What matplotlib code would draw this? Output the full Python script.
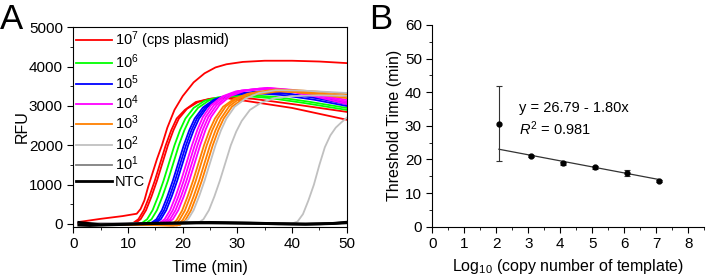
import matplotlib
matplotlib.use("Agg")
import matplotlib.pyplot as plt
from matplotlib.ticker import MultipleLocator

plt.rcParams['font.family'] = ['Liberation Sans', 'DejaVu Sans']
plt.rcParams['mathtext.fontset'] = 'custom'
plt.rcParams['mathtext.rm'] = 'Liberation Sans'
plt.rcParams['mathtext.it'] = 'Liberation Sans:italic'
plt.rcParams['font.size'] = 11

# ---- panel A: amplification curves (time in min, RFU) ----
red_t = [
    [1, 3, 5, 7, 9, 10.5, 11.6, 12.3, 13.0, 13.7, 14.5, 15.3, 16.2, 17.2, 18.5, 20, 22, 24, 26, 28, 31, 35, 40, 45, 50],
    [1, 10.9, 11.9, 12.9, 13.9, 14.9, 15.9, 16.9, 17.9, 18.9, 20.4, 22.4, 24.9, 28, 32, 40, 50],
    [1, 11.3, 12.3, 13.3, 14.3, 15.3, 16.3, 17.3, 18.3, 19.3, 20.8, 22.8, 25.3, 29, 33, 40, 50],
]
red_rfu = [
    [50, 90, 130, 165, 200, 235, 260, 380, 600, 950, 1300, 1650, 2000, 2450, 2900, 3250, 3600, 3830, 3980, 4060, 4120, 4150, 4150, 4130, 4090],
    [20, 20, 120, 350, 700, 1100, 1550, 2000, 2380, 2680, 2900, 3100, 3180, 3200, 3120, 2950, 2650],
    [20, 20, 120, 350, 700, 1100, 1550, 2000, 2380, 2680, 2930, 3100, 3190, 3220, 3180, 3050, 2850],
]
green_t = [
    [1, 12.5, 13.5, 14.5, 15.5, 16.5, 17.5, 18.5, 19.5, 20.5, 22, 24, 26.5, 31, 36, 42, 50],
    [1, 13.3, 14.3, 15.3, 16.3, 17.3, 18.3, 19.3, 20.3, 21.3, 22.8, 24.8, 27.3, 32, 37, 43, 50],
]
green_rfu = [
    [20, 20, 120, 350, 700, 1100, 1550, 2000, 2380, 2680, 2950, 3130, 3220, 3260, 3200, 3080, 2900],
    [20, 20, 120, 350, 700, 1100, 1550, 2000, 2380, 2680, 2950, 3140, 3230, 3280, 3230, 3110, 2950],
]
blue_t = [
    [1, 14.2, 15.2, 16.2, 17.2, 18.2, 19.2, 20.2, 21.2, 22.2, 23.7, 25.7, 28.2, 33, 38, 44, 50],
    [1, 14.6, 15.6, 16.6, 17.6, 18.6, 19.6, 20.6, 21.6, 22.6, 24.1, 26.1, 28.6, 34, 39, 44, 50],
    [1, 15, 16, 17, 18, 19, 20, 21, 22, 23, 24.5, 26.5, 29, 34, 39, 44, 50],
]
blue_rfu = [
    [20, 20, 120, 350, 700, 1100, 1550, 2000, 2380, 2680, 2960, 3160, 3270, 3330, 3280, 3160, 3000],
    [20, 20, 120, 350, 700, 1100, 1550, 2000, 2380, 2680, 2960, 3170, 3290, 3350, 3310, 3220, 3100],
    [20, 20, 120, 350, 700, 1100, 1550, 2000, 2380, 2680, 2970, 3180, 3300, 3370, 3320, 3210, 3050],
]
magenta_t = [
    [1, 15.7, 16.7, 17.7, 18.7, 19.7, 20.7, 21.7, 22.7, 23.7, 25.2, 27.2, 29.7, 34, 39, 44, 50],
    [1, 16.2, 17.2, 18.2, 19.2, 20.2, 21.2, 22.2, 23.2, 24.2, 25.7, 27.7, 30.2, 35, 40, 45, 50],
    [1, 16.7, 17.7, 18.7, 19.7, 20.7, 21.7, 22.7, 23.7, 24.7, 26.2, 28.2, 30.7, 35.5, 40, 45, 50],
    [1, 17.2, 18.2, 19.2, 20.2, 21.2, 22.2, 23.2, 24.2, 25.2, 26.7, 28.7, 31.2, 36, 40, 45, 50],
]
magenta_rfu = [
    [20, 20, 120, 350, 700, 1100, 1550, 2000, 2400, 2720, 3020, 3240, 3370, 3440, 3380, 3250, 3050],
    [20, 20, 120, 350, 700, 1100, 1550, 2000, 2400, 2720, 3020, 3250, 3380, 3450, 3390, 3260, 3100],
    [20, 20, 120, 350, 700, 1100, 1550, 2000, 2400, 2720, 3020, 3250, 3390, 3460, 3410, 3290, 3150],
    [20, 20, 120, 350, 700, 1100, 1550, 2000, 2400, 2720, 3020, 3250, 3380, 3450, 3400, 3270, 3100],
]
orange_t = [
    [1, 17.9, 18.9, 19.9, 20.9, 21.9, 22.9, 23.9, 24.9, 25.9, 27.4, 29.4, 31.9, 36, 41, 45, 50],
    [1, 18.4, 19.4, 20.4, 21.4, 22.4, 23.4, 24.4, 25.4, 26.4, 27.9, 29.9, 32.4, 37, 41, 45, 50],
    [1, 19, 20, 21, 22, 23, 24, 25, 26, 27, 28.5, 30.5, 33, 37, 41, 45, 50],
    [1, 19.5, 20.5, 21.5, 22.5, 23.5, 24.5, 25.5, 26.5, 27.5, 29, 31, 33.5, 38, 42, 46, 50],
]
orange_rfu = [
    [10, -30, 100, 340, 700, 1100, 1550, 2000, 2380, 2680, 2980, 3180, 3310, 3380, 3350, 3290, 3200],
    [10, -40, 100, 340, 700, 1100, 1550, 2000, 2380, 2680, 2990, 3190, 3320, 3400, 3370, 3320, 3250],
    [10, -40, 100, 340, 700, 1100, 1550, 2000, 2380, 2680, 2990, 3200, 3340, 3420, 3400, 3360, 3300],
    [10, -30, 100, 340, 700, 1100, 1550, 2000, 2380, 2680, 2980, 3180, 3300, 3380, 3340, 3300, 3250],
]
lgrey_t = [
    [1, 20, 21, 22, 23, 24, 25, 26, 27, 28, 29.5, 31.5, 34, 37, 42, 46, 50],
    [1, 22.8, 23.8, 24.8, 25.8, 26.8, 27.8, 28.8, 29.8, 30.8, 32.3, 34.3, 36.8, 40, 45, 50],
    [1, 40, 41, 42, 43, 44, 45, 46, 47, 48, 49, 50],
]
lgrey_rfu = [
    [20, 20, 120, 350, 700, 1100, 1550, 2000, 2380, 2680, 2980, 3190, 3330, 3400, 3390, 3360, 3330],
    [20, 20, 120, 350, 700, 1100, 1550, 2000, 2350, 2620, 2900, 3080, 3200, 3250, 3270, 3260],
    [20, 10, 60, 250, 600, 1000, 1500, 1950, 2250, 2450, 2580, 2700],
]
dgrey_t = [[1, 10, 20, 30, 40, 50]]
dgrey_rfu = [[10, 0, 10, 20, 0, 20]]
ntc_t = [1, 3, 5, 7.5, 10, 12.5, 15, 17.5, 20, 22.5, 25, 27.5, 30, 32.5, 35, 37.5, 40, 42.5, 45, 47.5, 50]
ntc_rfu = [
    [40, 10, -20, -10, 0, 10, 20, 25, 30, 35, 40, 35, 30, 25, 15, 10, 5, 0, 5, 15, 45],
    [-30, -40, -30, -20, -10, 0, 10, 15, 20, 30, 30, 25, 20, 15, 10, 0, -5, -10, 0, 10, 30],
]

legend_labels = [r'10$^7$ (cps plasmid)', r'10$^6$', r'10$^5$', r'10$^4$',
                 r'10$^3$', r'10$^2$', r'10$^1$', 'NTC']
colors = ['#ff0000', '#00ff00', '#0000ff', '#ff00ff', '#ff8000', '#c0c0c0', '#808080', '#000000']

# ---- panel B: standard curve ----
log_copies = [2.08, 3.08, 4.08, 5.08, 6.08, 7.08]
tt_mean = [30.7, 21.0, 18.9, 17.7, 16.1, 13.7]
tt_err = [11.3, 0.4, 0.4, 0.4, 0.9, 0.3]
fit_intercept = 26.79
fit_slope = -1.80

fig = plt.figure(figsize=(7.07, 2.75), dpi=100)
axA = fig.add_axes([0.1037, 0.1756, 0.3867, 0.7251])
axB = fig.add_axes([0.6115, 0.1756, 0.3847, 0.7335])

groups = [(red_t, red_rfu), (green_t, green_rfu), (blue_t, blue_rfu),
          (magenta_t, magenta_rfu), (orange_t, orange_rfu),
          (lgrey_t, lgrey_rfu), (dgrey_t, dgrey_rfu)]
for (ts, ys), c, lab in zip(groups, colors, legend_labels):
    for i, (t, y) in enumerate(zip(ts, ys)):
        axA.plot(t, y, color=c, lw=1.3, label=lab if i == 0 else None)
for i, y in enumerate(ntc_rfu):
    axA.plot(ntc_t, y, color='black', lw=2.0, label='NTC' if i == 0 else None)

axA.set_xlim(0, 50)
axA.set_ylim(-70, 5000)
axA.xaxis.set_major_locator(MultipleLocator(10))
axA.xaxis.set_minor_locator(MultipleLocator(5))
axA.yaxis.set_major_locator(MultipleLocator(1000))
axA.yaxis.set_minor_locator(MultipleLocator(500))
axA.tick_params(which='both', direction='out', top=False, right=False)
axA.tick_params(which='major', length=4)
axA.tick_params(which='minor', length=2)
axA.set_xlabel('Time (min)', fontsize=11.5)
axA.set_ylabel('RFU', fontsize=11.5)
axA.yaxis.set_label_coords(-0.158, 0.5)
axA.xaxis.set_label_coords(0.5, -0.165)
axA.legend(loc='upper left', bbox_to_anchor=(0.0, 1.0), frameon=False,
           handlelength=2.5, handletextpad=0.2, labelspacing=0.12,
           borderaxespad=0.05, borderpad=0.1, fontsize=10.5)

axB.errorbar(log_copies, tt_mean, yerr=tt_err, fmt='o', color='black', ms=3.5,
             ecolor='#333333', elinewidth=0.8, capsize=2.5, capthick=0.8)
fit_x = [log_copies[0], log_copies[-1]]
fit_y = [fit_intercept + fit_slope * x for x in fit_x]
axB.plot(fit_x, fit_y, color='#333333', lw=0.9)
axB.text(2.72, 35.2, 'y = 26.79 - 1.80x', va='center', fontsize=10.5)
axB.text(2.72, 29.3, r'$\mathit{R}^2$ = 0.981', va='center', fontsize=10.5)
axB.set_xlim(0, 8.5)
axB.set_ylim(0, 60)
axB.spines['top'].set_visible(False)
axB.spines['right'].set_visible(False)
axB.xaxis.set_major_locator(MultipleLocator(1))
axB.xaxis.set_minor_locator(MultipleLocator(0.5))
axB.yaxis.set_major_locator(MultipleLocator(10))
axB.yaxis.set_minor_locator(MultipleLocator(5))
axB.tick_params(which='both', direction='out')
axB.tick_params(which='major', length=4)
axB.tick_params(which='minor', length=2)
axB.set_xlabel(r'Log$_{10}$ (copy number of template)', fontsize=11.5)
axB.set_ylabel('Threshold Time (min)', fontsize=11.5)
axB.yaxis.set_label_coords(-0.111, 0.5)
axB.xaxis.set_label_coords(0.5, -0.149)

fig.text(0.0, 0.99, 'A', fontsize=25, va='top', ha='left')
fig.text(0.522, 0.99, 'B', fontsize=25, va='top', ha='left')

fig.savefig('out.png', dpi=100)
